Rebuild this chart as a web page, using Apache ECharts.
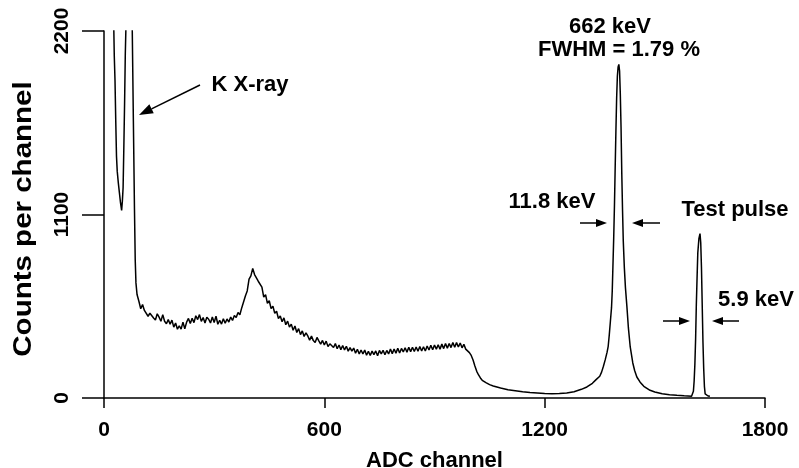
<!DOCTYPE html>
<html>
<head>
<meta charset="utf-8">
<script src="https://cdn.jsdelivr.net/npm/echarts@6/dist/echarts.min.js"></script>
<style>
  html, body { margin: 0; padding: 0; background: #fff; }
  #chart { width: 799px; height: 468px; }
</style>
</head>
<body>
<div id="chart"></div>
<script>
// ---- Data ----
// X-ray region (channel, counts); values above 2200 run off the top of the plot
const xrayChannels = [22,26,28,30,32,34,36,39,42,45,48,50,52,54,56,58,60,63,73,77,80,83,85,87,90];
const xrayCounts   = [2900,2300,2050,1900,1660,1450,1360,1290,1230,1170,1125,1180,1260,1500,1760,2060,2250,3000,3000,2200,1660,1130,830,690,620];

// Continuum, one value every 5 channels from channel 95 to 1000
const contStart = 95;
const contStep = 5;
const contCounts = [
  580,535,560,525,535,490,508,513,480,468,
  505,485,460,500,460,445,470,442,467,425,
  450,412,433,413,455,415,455,477,447,478,
  452,493,470,500,459,482,449,484,472,450,
  486,453,491,442,466,443,475,448,474,455,
  485,465,494,482,512,499,540,550,612,642,
  712,732,777,740,745,700,692,665,605,620,
  567,583,536,550,508,520,476,492,457,480,
  439,461,425,443,406,432,393,416,380,402,
  369,391,372,347,371,344,332,363,342,323,
  345,318,341,308,325,333,303,326,295,318,
  290,315,288,310,281,302,281,299,268,292,
  264,288,264,287,256,280,255,281,260,282,
  253,285,265,286,259,285,264,294,266,294,
  269,298,270,297,276,301,275,304,278,304,
  279,306,280,309,282,307,282,312,288,316,
  289,318,293,319,293,323,296,327,299,327,
  302,333,304,332,306,330,301,322,293,300,
  272,255
];

// Compton edge tail, 662 keV photopeak and test pulse
const peakChannels = [1005,1010,1015,1020,1025,1030,1040,1050,1060,1080,1100,1120,1140,1160,1180,1200,1220,1240,1260,1280,1300,1315,1330,1340,1350,1355,1360,1365,1370,1373,1376,1379,1382,1384,1386,1388,1390,1392,1394,1396,1398,1400,1402,1404,1406,1408,1410,1412,1414,1417,1420,1424,1428,1433,1440,1445,1451,1460,1470,1487,1500,1520,1540,1560,1580,1600,1603,1605,1607,1609,1611,1613,1615,1617,1620,1623,1625,1627,1629,1631,1633,1635,1637,1640,1645,1650];
const peakCounts   = [228,192,160,138,120,106,92,80,72,60,50,44,38,33,30,27,26,27,30,37,52,66,88,110,130,155,190,230,275,310,380,460,540,640,800,960,1150,1380,1600,1800,1930,1985,2000,1960,1820,1620,1345,1130,945,780,660,546,420,306,210,165,126,95,70,46,36,26,20,16,13,11,18,40,100,200,350,560,720,870,955,985,930,780,560,340,180,70,25,16,12,10];

// Axis ticks
const xTicks = [0, 600, 1200, 1800];
const yTicks = [0, 1100, 2200];

// ---- Build series data ----
const spectrum = [];
xrayChannels.forEach((c, i) => spectrum.push([c, xrayCounts[i]]));
contCounts.forEach((v, i) => spectrum.push([contStart + i * contStep, v]));
peakChannels.forEach((c, i) => spectrum.push([c, peakCounts[i]]));

const FONT = "'Liberation Sans', Arial, Helvetica, sans-serif";

function arrow(x1, y1, x2, y2, headLen, headW) {
  const dx = x2 - x1, dy = y2 - y1;
  const len = Math.sqrt(dx * dx + dy * dy);
  const ux = dx / len, uy = dy / len;
  const bx = x2 - ux * headLen, by = y2 - uy * headLen;
  const px = -uy * headW, py = ux * headW;
  return [
    { type: 'line', shape: { x1: x1, y1: y1, x2: bx, y2: by }, style: { stroke: '#000', lineWidth: 1.5 } },
    { type: 'polygon', shape: { points: [[x2, y2], [bx + px, by + py], [bx - px, by - py]] }, style: { fill: '#000' } }
  ];
}

function label(text, x, y) {
  return { type: 'text', x: x, y: y, style: { text: text, font: 'bold 22px ' + FONT, fill: '#000', textAlign: 'center', textVerticalAlign: 'middle' } };
}

const chart = echarts.init(document.getElementById('chart'), null, { renderer: 'canvas' });

const graphics = [
  label('K X-ray', 250, 85),
  label('662 keV', 610, 27),
  label('FWHM = 1.79 %', 619, 50),
  label('11.8 keV', 552, 202),
  label('Test pulse', 735, 210),
  label('5.9 keV', 756, 300),
  {
    type: 'text', x: 24, y: 219, rotation: Math.PI / 2, scaleX: 1.18,
    style: { text: 'Counts per channel', font: 'bold 25px ' + FONT, fill: '#000', textAlign: 'center', textVerticalAlign: 'middle' }
  }
].concat(
  arrow(200, 85, 139, 115, 14, 5),
  arrow(580, 223, 607, 223, 11, 4),
  arrow(660, 223, 632, 223, 11, 4),
  arrow(663, 321, 690, 321, 11, 4),
  arrow(739, 321, 712, 321, 11, 4)
);

chart.setOption({
  backgroundColor: '#fff',
  animation: false,
  grid: { left: 104, right: 34, top: 31, bottom: 70, containLabel: false, outerBoundsMode: 'none' },
  xAxis: {
    type: 'value',
    min: xTicks[0], max: xTicks[xTicks.length - 1], interval: 600,
    name: 'ADC channel', nameLocation: 'middle', nameGap: 52,
    nameTextStyle: { color: '#000', fontSize: 22, fontWeight: 'bold', fontFamily: FONT },
    axisLine: { show: true, onZero: false, lineStyle: { color: '#000', width: 1.5 } },
    axisTick: { show: true, inside: false, length: 10, lineStyle: { color: '#000', width: 1.5 } },
    axisLabel: { color: '#000', fontSize: 21, fontWeight: 'bold', fontFamily: FONT, margin: 22, formatter: v => String(v) },
    splitLine: { show: false }
  },
  yAxis: {
    type: 'value',
    min: yTicks[0], max: yTicks[yTicks.length - 1], interval: 1100,
    axisLine: { show: true, onZero: false, lineStyle: { color: '#000', width: 1.5 } },
    axisTick: { show: true, inside: false, length: 22, lineStyle: { color: '#000', width: 1.5 } },
    axisLabel: {
      color: '#000', fontSize: 21, fontWeight: 'bold', fontFamily: FONT, rotate: 90, margin: 31,
      alignMinLabel: 'center', alignMaxLabel: 'center', formatter: v => String(v)
    },
    splitLine: { show: false }
  },
  series: [{
    type: 'line',
    data: spectrum,
    showSymbol: false,
    symbol: 'none',
    clip: true,
    lineStyle: { color: '#000', width: 1.5 },
    z: 3
  }],
  graphic: graphics
});
</script>
</body>
</html>
